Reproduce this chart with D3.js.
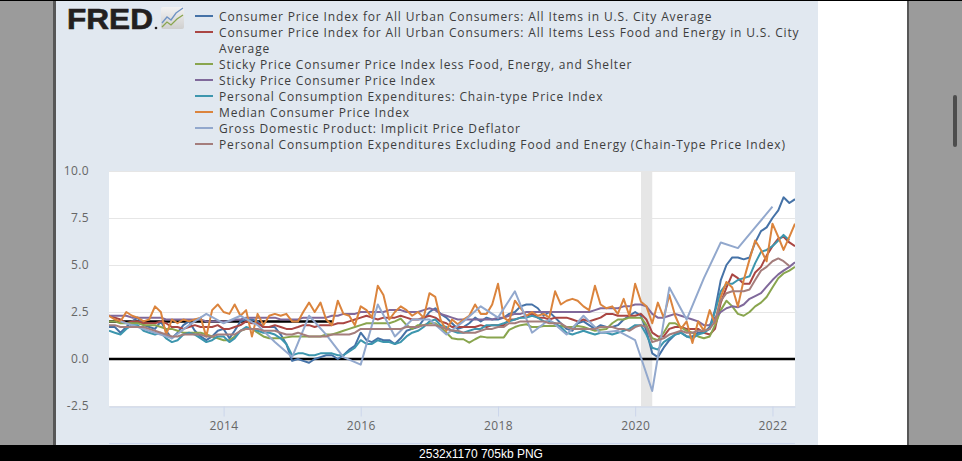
<!DOCTYPE html>
<html>
<head>
<meta charset="utf-8">
<script src="https://cdn.jsdelivr.net/npm/d3@7"></script>
<style>
  body { margin: 0; background: #000; }
  svg { display: block; }
</style>
</head>
<body>
<svg width="962" height="461"></svg>
<script>
// monthly series start in May 2012, one value per month
var firstMonth = "2012-05-01";

var cpi = [1.7, 1.7, 1.4, 1.7, 2.0, 2.2, 1.8, 1.7,
  1.6, 2.0, 1.5, 1.1, 1.4, 1.8, 2.0, 1.5, 1.2, 1.0, 1.2, 1.5,
  1.6, 1.1, 1.5, 2.0, 2.1, 2.1, 2.0, 1.7, 1.7, 1.7, 1.3, 0.8,
  -0.1, 0.0, -0.1, -0.2, 0.0, 0.1, 0.2, 0.2, 0.0, 0.2, 0.5, 0.7,
  1.4, 1.0, 0.9, 1.1, 1.0, 1.0, 0.8, 1.1, 1.5, 1.6, 1.7, 2.1,
  2.5, 2.7, 2.4, 2.2, 1.9, 1.6, 1.7, 1.9, 2.2, 2.0, 2.2, 2.1,
  2.1, 2.2, 2.4, 2.5, 2.8, 2.9, 2.9, 2.7, 2.3, 2.5, 2.2, 1.9,
  1.6, 1.5, 1.9, 2.0, 1.8, 1.6, 1.8, 1.7, 1.7, 1.8, 2.1, 2.3,
  2.5, 2.3, 1.5, 0.3, 0.1, 0.6, 1.0, 1.3, 1.4, 1.2, 1.2, 1.4,
  1.4, 1.7, 2.6, 4.2, 5.0, 5.4, 5.4, 5.3, 5.4, 6.2, 6.8, 7.0,
  7.5, 7.9, 8.6, 8.3, 8.5];

var coreCpi = [2.3, 2.2, 2.1, 1.9, 2.0, 2.0, 1.9, 1.9,
  1.9, 2.0, 1.9, 1.7, 1.7, 1.6, 1.7, 1.8, 1.7, 1.7, 1.7, 1.8,
  1.6, 1.6, 1.7, 1.8, 2.0, 1.9, 1.9, 1.7, 1.7, 1.8, 1.7, 1.6,
  1.6, 1.7, 1.8, 1.8, 1.7, 1.8, 1.8, 1.8, 1.9, 1.9, 2.0, 2.1,
  2.2, 2.3, 2.2, 2.1, 2.2, 2.2, 2.2, 2.3, 2.2, 2.1, 2.1, 2.2,
  2.3, 2.2, 2.0, 1.9, 1.7, 1.7, 1.7, 1.7, 1.7, 1.8, 1.7, 1.8,
  1.8, 1.8, 2.1, 2.1, 2.2, 2.3, 2.4, 2.2, 2.2, 2.1, 2.2, 2.2,
  2.2, 2.1, 2.0, 2.1, 2.0, 2.1, 2.2, 2.4, 2.4, 2.3, 2.3, 2.3,
  2.3, 2.4, 2.1, 1.4, 1.2, 1.2, 1.6, 1.7, 1.7, 1.6, 1.6, 1.6,
  1.4, 1.3, 1.6, 3.0, 3.8, 4.5, 4.3, 4.0, 4.0, 4.6, 4.9, 5.5,
  6.0, 6.4, 6.5, 6.2, 6.0];

var stickyXfes = [2.0, 2.0, 1.9, 1.9, 1.9, 1.9, 1.8, 1.8,
  1.8, 1.7, 1.6, 1.6, 1.5, 1.4, 1.4, 1.4, 1.4, 1.3, 1.2, 1.1,
  1.0, 1.0, 1.2, 1.5, 1.6, 1.6, 1.4, 1.2, 1.1, 1.1, 1.1, 1.15,
  1.2, 1.2, 1.2, 1.2, 1.2, 1.2, 1.3, 1.3, 1.4, 1.5, 1.6, 1.7,
  1.8, 1.9, 1.9, 1.9, 1.9, 1.9, 2.0, 2.15, 1.8, 1.6, 1.8, 1.8,
  1.9, 1.9, 1.7, 1.4, 1.1, 1.05, 1.05, 0.87, 1.05, 1.2, 1.15, 1.15,
  1.15, 1.15, 1.55, 1.7, 1.8, 1.85, 1.7, 1.7, 1.75, 1.75, 1.75, 1.75,
  1.7, 1.7, 1.75, 1.7, 1.6, 1.5, 1.55, 1.6, 1.9, 2.1, 2.1, 2.2,
  2.2, 2.2, 1.8, 1.1, 1.0, 1.4, 1.9, 1.9, 1.7, 1.5, 1.4, 1.2,
  1.1, 1.2, 1.8, 2.6, 3.1, 2.8, 2.4, 2.3, 2.5, 2.8, 3.0, 3.3,
  3.8, 4.3, 4.55, 4.7, 4.9];

var sticky = [2.3, 2.3, 2.3, 2.3, 2.2, 2.2, 2.2, 2.2,
  2.2, 2.2, 2.1, 2.1, 2.1, 2.1, 2.1, 2.1, 2.1, 2.0, 2.0, 2.0,
  2.0, 2.0, 2.1, 2.1, 2.2, 2.2, 2.2, 2.2, 2.2, 2.2, 2.1, 2.1,
  2.1, 2.1, 2.2, 2.2, 2.2, 2.2, 2.2, 2.3, 2.3, 2.4, 2.4, 2.4,
  2.5, 2.5, 2.5, 2.5, 2.5, 2.6, 2.6, 2.6, 2.5, 2.5, 2.5, 2.6,
  2.7, 2.6, 2.4, 2.3, 2.2, 2.1, 2.1, 2.1, 2.1, 2.1, 2.1, 2.1,
  2.2, 2.2, 2.3, 2.4, 2.4, 2.5, 2.5, 2.5, 2.5, 2.5, 2.5, 2.5,
  2.5, 2.5, 2.5, 2.5, 2.5, 2.6, 2.7, 2.7, 2.7, 2.7, 2.8, 2.8,
  2.9, 2.9, 2.8, 2.4, 2.2, 2.2, 2.3, 2.4, 2.3, 2.2, 2.1, 2.0,
  1.8, 1.8, 2.2, 2.5, 2.7, 2.8, 2.75, 2.9, 3.2, 3.35, 3.5, 3.85,
  4.2, 4.5, 4.7, 4.9, 5.15];

var pce = [1.5, 1.4, 1.3, 1.6, 1.8, 1.8, 1.5, 1.4,
  1.3, 1.4, 1.1, 0.9, 1.0, 1.3, 1.4, 1.3, 1.1, 0.9, 1.0, 1.2,
  1.2, 0.9, 1.1, 1.5, 1.7, 1.6, 1.5, 1.4, 1.4, 1.3, 1.1, 0.8,
  0.2, 0.3, 0.3, 0.2, 0.2, 0.3, 0.3, 0.3, 0.2, 0.2, 0.4, 0.6,
  1.0, 0.8, 0.8, 1.0, 0.9, 0.9, 0.8, 0.9, 1.2, 1.4, 1.5, 1.7,
  2.0, 2.1, 1.8, 1.7, 1.5, 1.4, 1.4, 1.5, 1.6, 1.6, 1.8, 1.8,
  1.8, 1.9, 2.0, 2.1, 2.2, 2.2, 2.3, 2.2, 2.0, 2.0, 1.9, 1.7,
  1.4, 1.3, 1.4, 1.5, 1.4, 1.3, 1.4, 1.4, 1.3, 1.4, 1.5, 1.6,
  1.8, 1.8, 1.3, 0.6, 0.5, 0.9, 1.1, 1.3, 1.4, 1.2, 1.1, 1.3,
  1.4, 1.6, 2.5, 3.6, 4.0, 4.0, 4.2, 4.3, 4.4, 5.1, 5.7, 5.8,
  6.0, 6.3, 6.6, 6.3];

var medianCpi = [2.3, 2.1, 2.0, 2.5, 2.3, 2.2, 2.0, 2.1,
  2.8, 2.5, 1.3, 2.1, 1.9, 2.1, 2.0, 2.1, 2.2, 1.2, 2.6, 2.9,
  2.5, 2.4, 2.9, 2.3, 2.6, 1.2, 2.4, 1.8, 2.3, 2.4, 2.3, 2.4,
  2.0, 2.0, 2.5, 3.0, 2.5, 3.0, 2.1, 1.8, 3.1, 2.4, 2.3, 1.8,
  2.8, 2.6, 2.2, 3.9, 3.4, 2.1, 2.5, 2.8, 2.6, 2.3, 2.5, 2.2,
  3.5, 3.3, 2.1, 1.5, 2.1, 1.85, 2.1, 2.3, 2.9, 2.4, 2.4, 2.9,
  4.0, 2.2, 2.0, 3.1, 2.7, 2.3, 2.5, 2.3, 2.4, 2.2, 3.6, 2.9,
  3.1, 3.2, 3.1, 2.8, 2.6, 3.9, 2.9, 2.7, 2.8, 2.4, 3.2, 2.3,
  4.0, 3.05, 2.8, 1.9, 3.0, 2.2, 3.4, 2.3, 1.6, 2.0, 0.85, 2.0,
  1.5, 2.6, 1.9, 3.3, 4.1, 3.8, 2.8, 4.2, 5.3, 6.3, 5.8, 5.2,
  7.2, 6.5, 5.8, 6.5, 7.2];

var corePce = [1.8, 1.8, 1.7, 1.7, 1.7, 1.7, 1.7, 1.6,
  1.5, 1.4, 1.3, 1.2, 1.2, 1.3, 1.3, 1.3, 1.3, 1.2, 1.2, 1.3,
  1.3, 1.3, 1.3, 1.5, 1.6, 1.6, 1.6, 1.5, 1.5, 1.5, 1.4, 1.3,
  1.3, 1.4, 1.3, 1.2, 1.2, 1.2, 1.2, 1.3, 1.3, 1.3, 1.3, 1.4,
  1.6, 1.6, 1.6, 1.6, 1.6, 1.6, 1.6, 1.6, 1.7, 1.7, 1.7, 1.8,
  1.8, 1.8, 1.7, 1.6, 1.5, 1.5, 1.4, 1.4, 1.4, 1.5, 1.6, 1.6,
  1.7, 1.7, 1.9, 1.9, 2.0, 2.0, 2.0, 2.0, 2.0, 1.9, 1.9, 1.9,
  1.7, 1.6, 1.6, 1.6, 1.6, 1.6, 1.7, 1.7, 1.7, 1.6, 1.6, 1.5,
  1.7, 1.8, 1.7, 0.9, 1.0, 1.1, 1.3, 1.4, 1.5, 1.4, 1.4, 1.5,
  1.5, 1.6, 2.0, 3.1, 3.5, 3.6, 3.6, 3.6, 3.7, 4.2, 4.7, 4.9,
  5.2, 5.35, 5.2, 4.95];

// quarterly GDP deflator
var gdpDates = ["2012-07-01", "2012-10-01", "2013-01-01", "2013-04-01", "2013-07-01", "2013-10-01",
  "2014-01-01", "2014-04-01", "2014-07-01", "2014-10-01", "2015-01-01", "2015-04-01",
  "2015-07-01", "2015-10-01", "2016-01-01", "2016-04-01", "2016-07-01", "2016-10-01",
  "2017-01-01", "2017-04-01", "2017-07-01", "2017-10-01", "2018-01-01", "2018-04-01",
  "2018-07-01", "2018-10-01", "2019-01-01", "2019-04-01", "2019-07-01", "2019-10-01",
  "2020-01-01", "2020-04-01", "2020-07-01", "2020-10-01", "2021-01-01", "2021-04-01",
  "2021-07-01", "2021-10-01", "2022-01-01"];
var gdpDeflator = [2.0, 1.7, 1.4, 1.1, 1.8, 2.4,
  1.9, 2.3, 1.8, 0.9, 0.1, 2.3,
  1.3, 0.1, -0.3, 2.9, 1.2, 2.1,
  2.1, 1.3, 2.0, 2.8, 2.2, 3.6,
  1.4, 2.1, 1.3, 2.3, 1.4, 1.5,
  1.0, -1.7, 3.8, 2.1, 4.3, 6.2,
  5.9, 7.0, 8.1];

var seriesNames = [
  ["Consumer Price Index for All Urban Consumers: All Items in U.S. City Average"],
  ["Consumer Price Index for All Urban Consumers: All Items Less Food and Energy in U.S. City", "Average"],
  ["Sticky Price Consumer Price Index less Food, Energy, and Shelter"],
  ["Sticky Price Consumer Price Index"],
  ["Personal Consumption Expenditures: Chain-type Price Index"],
  ["Median Consumer Price Index"],
  ["Gross Domestic Product: Implicit Price Deflator"],
  ["Personal Consumption Expenditures Excluding Food and Energy (Chain-Type Price Index)"]
];
var colors = ["#4572a7", "#aa4643", "#89a54e", "#80699b", "#3d96ae", "#db843d", "#92a8cd", "#a47d7c"];

// black reference lines (zero and 2% target)
var refValues = [0, 2.0];
var refFrom = ["2012-05-01", "2012-05-01"];
var refTo = ["2022-05-01", "2015-08-01"];

var recessionStart = "2020-02-01", recessionEnd = "2020-04-01";
var yTicks = [-2.5, 0, 2.5, 5.0, 7.5, 10.0];
var xTicks = ["2014-01-01", "2016-01-01", "2018-01-01", "2020-01-01", "2022-01-01"];

var parse = d3.timeParse("%Y-%m-%d");
var start = parse(firstMonth);
function monthly(vals) {
  return vals.map(function(v, i) { return { date: d3.timeMonth.offset(start, i), value: v }; });
}
var allSeries = [
  monthly(cpi), monthly(coreCpi), monthly(stickyXfes), monthly(sticky), monthly(pce),
  monthly(medianCpi),
  gdpDates.map(function(d, i) { return { date: parse(d), value: gdpDeflator[i] }; }),
  monthly(corePce)
];

var svg = d3.select("svg");
var L = 109, R = 795, T = 171, B = 406;

// screenshot frame
svg.append("rect").attr("x", 0).attr("y", 0).attr("width", 962).attr("height", 461).attr("fill", "#9b9b9b");
svg.append("rect").attr("x", 53).attr("y", 0).attr("width", 3).attr("height", 461).attr("fill", "#575757");
svg.append("rect").attr("x", 56).attr("y", 0).attr("width", 762).attr("height", 461).attr("fill", "#e1e8f0");
svg.append("rect").attr("x", 818).attr("y", 0).attr("width", 89).attr("height", 461).attr("fill", "#fff");
svg.append("rect").attr("x", 907).attr("y", 0).attr("width", 2).attr("height", 461).attr("fill", "#575757");
svg.append("rect").attr("x", 953).attr("y", 95).attr("width", 4).attr("height", 52).attr("rx", 2).attr("fill", "#4d4d4d");
svg.append("rect").attr("x", 0).attr("y", 0).attr("width", 962).attr("height", 1).attr("fill", "#000");

var x = d3.scaleTime().domain([parse("2012-05-01"), parse("2022-05-01")]).range([L, R]);
var y = d3.scaleLinear().domain([-2.5, 10]).range([B, T]);

// plot background and grid
svg.append("rect").attr("x", L).attr("y", T).attr("width", R - L).attr("height", B - T).attr("fill", "#fff");
svg.append("rect")
  .attr("x", x(parse(recessionStart)))
  .attr("y", T)
  .attr("width", x(parse(recessionEnd)) - x(parse(recessionStart)))
  .attr("height", B - T)
  .attr("fill", "#e6e6e6");

svg.append("g").selectAll("line").data(yTicks).enter().append("line")
  .attr("x1", L).attr("x2", R)
  .attr("y1", function(d) { return Math.round(y(d)) + 0.5; })
  .attr("y2", function(d) { return Math.round(y(d)) + 0.5; })
  .attr("stroke", "#e6e6e6");

var yAxis = svg.append("g").attr("transform", "translate(" + (L - 17) + ",0)")
  .call(d3.axisLeft(y).tickValues(yTicks).tickSize(0)
    .tickFormat(function(d) { return d.toFixed(1); }));
yAxis.select(".domain").remove();
yAxis.selectAll("text").attr("font-family", "Open Sans").attr("font-size", 12)
  .attr("letter-spacing", 0.4).attr("fill", "#666");

var xAxis = svg.append("g").attr("transform", "translate(0," + (B + 0.5) + ")")
  .call(d3.axisBottom(x).tickValues(xTicks.map(parse)).tickFormat(d3.timeFormat("%Y")).tickSize(10).tickSizeOuter(0).tickPadding(5));
xAxis.select(".domain").attr("stroke", "#ccd6eb");
xAxis.selectAll(".tick line").attr("stroke", "#ccd6eb");
xAxis.selectAll("text").attr("font-family", "Open Sans").attr("font-size", 12)
  .attr("letter-spacing", 0.4).attr("fill", "#666");

svg.append("line").attr("x1", L).attr("x2", R).attr("y1", 443.5).attr("y2", 443.5).attr("stroke", "#ccd6eb");

svg.append("clipPath").attr("id", "plot")
  .append("rect").attr("x", L).attr("y", T).attr("width", R - L).attr("height", B - T);
var plot = svg.append("g").attr("clip-path", "url(#plot)");

// reference lines
plot.selectAll(".ref").data(refValues).enter().append("line")
  .attr("x1", function(d, i) { return x(parse(refFrom[i])); })
  .attr("x2", function(d, i) { return x(parse(refTo[i])); })
  .attr("y1", function(d) { return y(d); })
  .attr("y2", function(d) { return y(d); })
  .attr("stroke", "#000")
  .attr("stroke-width", 2.5);

var line = d3.line()
  .x(function(d) { return x(d.date); })
  .y(function(d) { return y(d.value); });

plot.selectAll(".series").data(allSeries).enter().append("path")
  .attr("d", line)
  .attr("fill", "none")
  .attr("stroke", function(d, i) { return colors[i]; })
  .attr("stroke-width", 2)
  .attr("stroke-linejoin", "round");

// legend
var row = 16;
seriesNames.forEach(function(lines, i) {
  svg.append("line")
    .attr("x1", 195).attr("x2", 213)
    .attr("y1", row).attr("y2", row)
    .attr("stroke", colors[i]).attr("stroke-width", 2);
  lines.forEach(function(t) {
    svg.append("text")
      .attr("x", 219).attr("y", row + 4.5)
      .attr("font-family", "Open Sans").attr("font-size", 12)
      .attr("letter-spacing", 0.85)
      .attr("fill", "#3d3d3d")
      .text(t);
    row += 16;
  });
});

// FRED logo
svg.append("text")
  .attr("x", 67).attr("y", 29)
  .attr("font-family", "Liberation Sans").attr("font-weight", "bold").attr("font-size", 29)
  .attr("textLength", 86).attr("lengthAdjust", "spacingAndGlyphs")
  .attr("fill", "#231f20")
  .attr("stroke", "#231f20").attr("stroke-width", 0.6)
  .text("FRED");
svg.append("circle").attr("cx", 156).attr("cy", 28).attr("r", 1.3).attr("fill", "#231f20");
var grad = svg.append("linearGradient").attr("id", "icon").attr("x1", 0).attr("x2", 0).attr("y1", 0).attr("y2", 1);
grad.append("stop").attr("offset", "0").attr("stop-color", "#f2f2f2");
grad.append("stop").attr("offset", "1").attr("stop-color", "#cfcfcf");
svg.append("rect").attr("x", 161).attr("y", 7).attr("width", 23).attr("height", 22).attr("rx", 2).attr("fill", "url(#icon)");
svg.append("polyline").attr("points", "162,23 167,17 171,20 176,13 183,8")
  .attr("fill", "none").attr("stroke", "#6f93c4").attr("stroke-width", 1.3);
svg.append("polyline").attr("points", "162,27 167,22 171,25 177,19 183,15")
  .attr("fill", "none").attr("stroke", "#89a54e").attr("stroke-width", 1.3);

// bottom caption bar
svg.append("rect").attr("x", 0).attr("y", 445).attr("width", 962).attr("height", 16).attr("fill", "#000");
svg.append("text")
  .attr("x", 481).attr("y", 458)
  .attr("text-anchor", "middle")
  .attr("font-family", "Liberation Sans").attr("font-size", 12)
  .attr("fill", "#fff")
  .text("2532x1170 705kb PNG");
</script>
</body>
</html>
